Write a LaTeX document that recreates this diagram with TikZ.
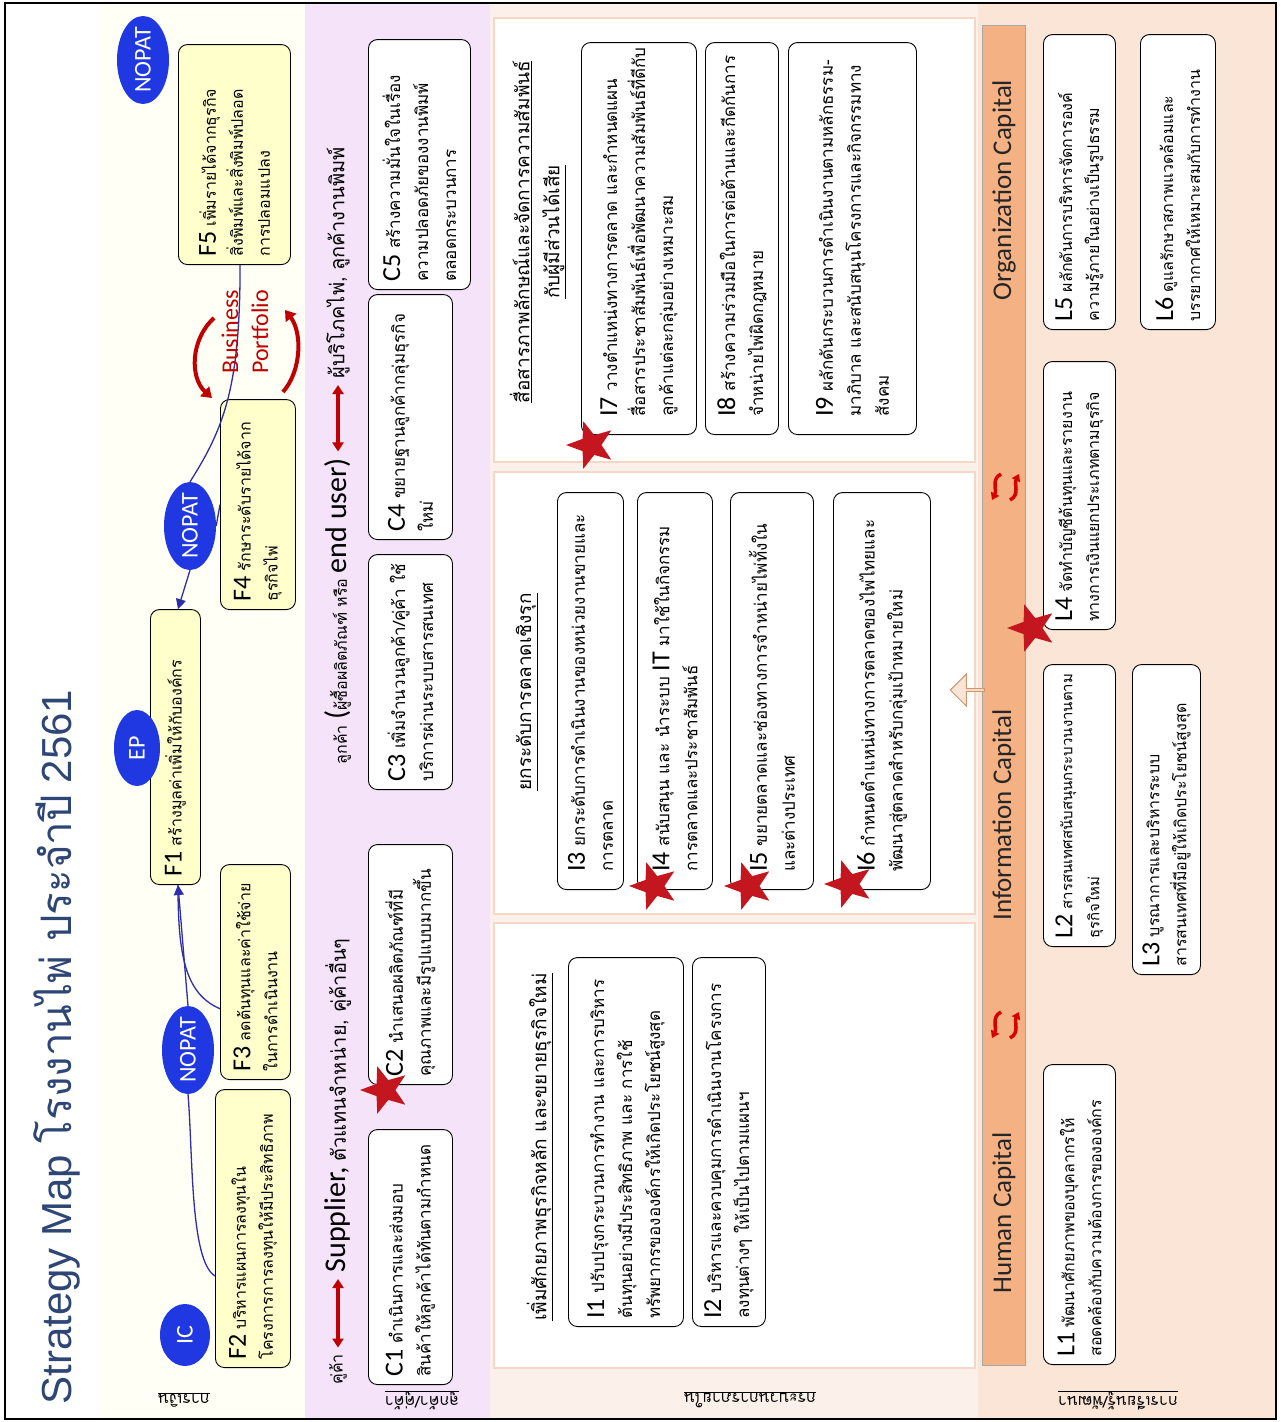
\documentclass[tikz,border=0pt]{standalone}
\usepackage{fontspec}
\setmainfont{Carlito}
\newfontfamily\thaifont[Script=Thai]{Loma}
\newfontfamily\latinfont{Carlito}
\newfontfamily\titlefont{Liberation Sans}
\usetikzlibrary{shapes.geometric, shapes.arrows, arrows.meta, calc}

\definecolor{fincream}{RGB}{255,255,246}
\definecolor{finyellow}{RGB}{255,255,204}
\definecolor{custpink}{RGB}{245,227,249}
\definecolor{procpeach}{RGB}{252,241,234}
\definecolor{panelline}{RGB}{246,214,196}
\definecolor{learnpeach}{RGB}{251,229,214}
\definecolor{capbar}{RGB}{244,177,131}
\definecolor{ovalblue}{RGB}{32,56,226}
\definecolor{linkblue}{RGB}{46,46,170}
\definecolor{darkred}{RGB}{192,0,0}
\definecolor{starred}{RGB}{196,22,30}
\definecolor{titleblue}{RGB}{45,70,118}

\newcommand{\idlab}[1]{{\latinfont\fontsize{26}{26}\selectfont #1}}
\newcommand{\boxtxt}{\thaifont\fontsize{16}{27}\selectfont}
\newcommand{\wideboxtxt}{\thaifont\fontsize{17}{28}\selectfont}
\newcommand{\headtxt}{\thaifont\fontsize{19}{30}\selectfont}
\newcommand{\bigsans}{\latinfont\fontsize{30}{30}\selectfont}

\tikzset{
  objbox/.style={draw, rounded corners=9pt, fill=white, rotate=90, anchor=north west,
    align=left, inner xsep=8pt, inner ysep=5pt, font=\boxtxt, line width=0.9pt},
  boxlen/.code={\pgfmathsetmacro\boxtw{#1-2*\pgfshapeinnerxsep}\tikzset{minimum width=#1pt, text width=\boxtw pt}},
  finobj/.style={objbox, fill=finyellow},
  wideobj/.style={objbox, font=\wideboxtxt},
  procobj/.style={wideobj, inner xsep=18pt},
  kpi/.style={ellipse, fill=ovalblue, text=white, rotate=90, inner sep=-4pt,
    font=\latinfont\fontsize{24}{24}\selectfont},
  redstar/.style={star, star points=5, star point ratio=2.4, fill=starred, rotate=90,
    minimum size=50pt, inner sep=0pt},
  panel/.style={fill=white, draw=panelline, line width=1.5pt},
  heading/.style={rotate=90, font=\headtxt, align=center},
  headline/.style={rotate=90, anchor=west, font=\boxtxt},
  link/.style={linkblue, line width=1.3pt},
  linkarrow/.style={link, -{Triangle[length=10pt,width=10pt]}},
  pairarrow/.style={darkred, line width=3.5pt, shorten <=3pt, shorten >=3pt,
    {Triangle[length=9pt,width=11pt]}-{Triangle[length=9pt,width=11pt]}},
  turnarrow/.style={darkred, line width=4pt, -{Triangle[length=10pt,width=13pt]}},
  swaparrow/.style={red!85!black, line width=3.5pt, -{Triangle[length=7pt,width=9pt]}},
  caplab/.style={rotate=90, font=\latinfont\fontsize{27}{27}\selectfont, text=black!85},
  rowlab/.style={rotate=180, font=\thaifont\fontsize{16}{16}\selectfont},
}

\begin{document}
\begin{tikzpicture}[x=1pt, y=-1pt]
\useasboundingbox (0,0) rectangle (1281,1422);
% column backgrounds
\fill[white] (0,0) rectangle (1281,1422);
\fill[fincream] (100,3) rectangle (305,1419);
\fill[custpink] (305,3) rectangle (490,1419);
\fill[procpeach] (490,3) rectangle (978,1419);
\fill[learnpeach] (978,3) rectangle (1276,1419);
\foreach \ya/\yb in {18/462, 472/914, 923/1368}
  \draw[panel] (494,\ya) rectangle (975,\yb);
\draw[line width=2.5pt] (5,3) rectangle (1276,1419);

% title
\node[rotate=90, anchor=west, text=titleblue] (title) at (57,1408)
  {\titlefont\fontsize{42}{42}\selectfont Strategy Map {\thaifont โรงงานไพ่ ประจำปี} 2561};

% financial
\node[finobj, boxlen=220, minimum height=112pt] (f5) at (178,265)
  {\idlab{F5}~เพิ่มรายได้จากธุรกิจ\\สิ่งพิมพ์และสิ่งพิมพ์ปลอด\\การปลอมแปลง};
\node[finobj, boxlen=210, minimum height=75pt] (f4) at (220,610)
  {\idlab{F4}~รักษาระดับรายได้จาก\\ธุรกิจไพ่};
\node[finobj, boxlen=275, minimum height=50pt] (f1) at (150,885)
  {\idlab{F1}~สร้างมูลค่าเพิ่มให้กับองค์กร};
\node[finobj, boxlen=215, minimum height=70pt] (f3) at (220,1080)
  {\idlab{F3}~ลดต้นทุนและค่าใช้จ่าย\\ในการดำเนินงาน};
\node[finobj, boxlen=278, minimum height=75pt] (f2) at (215,1368)
  {\idlab{F2}~บริหารแผนการลงทุนใน\\โครงการการลงทุนให้มีประสิทธิภาพ};

\node[kpi, minimum width=88pt, minimum height=52pt] (nopatA) at (143,60) {NOPAT};
\node[kpi, minimum width=88pt, minimum height=52pt] (nopatB) at (190,526) {NOPAT};
\node[kpi, minimum width=88pt, minimum height=52pt] (nopatC) at (188,1050) {NOPAT};
\node[kpi, minimum width=76pt, minimum height=46pt] (ep) at (137,748) {EP};
\node[kpi, minimum width=62pt, minimum height=50pt] (ic) at (185,1335) {IC};

\draw[link] ($(f5.north west)!0.55!(f5.south west)$) .. controls +(0,120) and +(35,-55) .. (nopatB.east);
\draw[link] (f4.north) -- (nopatB.south);
\draw[linkarrow] (nopatB.west) -- ($(f1.north east)!0.55!(f1.south east)$);
\draw[link] ($(f3.north west)!0.33!(f3.north east)$) .. controls +(-35,-15) and +(0,70) .. ($(f1.north west)!0.55!(f1.south west)$);
\draw[link] ($(f2.north west)!0.33!(f2.north east)$) .. controls +(-25,-15) and +(5,60) .. (nopatC.west);
\draw[linkarrow] (nopatC.east) -- ($(f1.north west)!0.55!(f1.south west)$);

\node[rotate=90, text=darkred, align=center, font=\latinfont\fontsize{24}{30}\selectfont] (bport) at (245,332) {Business\\Portfolio};
\coordinate (bpa1) at (214,318);
\coordinate (bpa2) at (212,398);
\coordinate (bpb1) at (283,392);
\coordinate (bpb2) at (285,310);
\draw[turnarrow] (bpa1) .. controls (190,340) and (190,378) .. (bpa2);
\draw[turnarrow] (bpb1) .. controls (302,370) and (302,332) .. (bpb2);

% customer
\node[headline] (partner) at (338,1388) {คู่ค้า};
\node[headline] (supplier) at (338,1276) {{\bigsans Supplier,} {\fontsize{20}{20}\selectfont ตัวแทนจำหน่าย, คู่ค้าอื่นๆ}};
\draw[pairarrow] (partner) -- (supplier);
\node[headline] (buyer) at (338,768) {ลูกค้า {\bigsans (}ผู้ซื้อผลิตภัณฑ์ หรือ {\bigsans end user)}};
\node[headline, font=\thaifont\fontsize{20}{20}\selectfont] (enduser) at (338,382) {ผู้บริโภคไพ่, ลูกค้างานพิมพ์};
\draw[pairarrow] (buyer) -- (enduser);

\node[wideobj, boxlen=255, minimum height=84pt] (c1) at (368,1385)
  {\idlab{C1}~ดำเนินการและส่งมอบ\\สินค้าให้ลูกค้าได้ทันตามกำหนด};
\node[wideobj, boxlen=240, minimum height=84pt] (c2) at (368,1085)
  {\idlab{C2}~นำเสนอผลิตภัณฑ์ที่มี\\คุณภาพและมีรูปแบบมากขึ้น};
\node[wideobj, boxlen=235, minimum height=84pt] (c3) at (368,790)
  {\idlab{C3}~เพิ่มจำนวนลูกค้า/คู่ค้า~ใช้\\บริการผ่านระบบสารสนเทศ};
\node[wideobj, boxlen=245, minimum height=84pt] (c4) at (368,540)
  {\idlab{C4}~ขยายฐานลูกค้ากลุ่มธุรกิจ\\ใหม่};
\node[wideobj, boxlen=250, minimum height=102pt] (c5) at (368,290)
  {\idlab{C5}~สร้างความมั่นใจในเรื่อง\\ความปลอดภัยของงานพิมพ์\\ตลอดกระบวนการ};

% internal process
\node[heading] (headA) at (538,232) {\underline{สื่อสารภาพลักษณ์และจัดการความสัมพันธ์}\\\underline{กับผู้มีส่วนได้เสีย}};
\node[procobj, boxlen=392, minimum height=115pt] (i7) at (581,435)
  {\idlab{I7}~วางตำแหน่งทางการตลาด และกำหนดแผน\\สื่อสารประชาสัมพันธ์เพื่อพัฒนาความสัมพันธ์ที่ดีกับ\\ลูกค้าแต่ละกลุ่มอย่างเหมาะสม};
\node[procobj, boxlen=392, minimum height=73pt] (i8) at (705,435)
  {\idlab{I8}~สร้างความร่วมมือในการต่อต้านและกีดกันการ\\จำหน่ายไพ่ผิดกฎหมาย};
\node[procobj, boxlen=392, minimum height=128pt] (i9) at (788,435)
  {\mbox{\idlab{I9}~ผลักดันกระบวนการดำเนินงานตามหลักธรรม-}\\มาภิบาล และสนับสนุนโครงการและกิจกรรมทาง\\สังคม};

\node[heading] (headB) at (527,692) {\underline{ยกระดับการตลาดเชิงรุก}};
\node[procobj, boxlen=397, minimum height=66pt] (i3) at (557,890)
  {\idlab{I3}~ยกระดับการดำเนินงานของหน่วยงานขายและ\\การตลาด};
\node[procobj, boxlen=397, minimum height=75pt] (i4) at (637,890)
  {\idlab{I4}~สนับสนุน และ นำระบบ {\latinfont\fontsize{26}{26}\selectfont IT} มาใช้ในกิจกรรม\\การตลาดและประชาสัมพันธ์};
\node[procobj, boxlen=397, minimum height=83pt] (i5) at (730,890)
  {\idlab{I5}~ขยายตลาดและช่องทางการจำหน่ายไพ่ทั้งใน\\และต่างประเทศ};
\node[procobj, boxlen=397, minimum height=97pt] (i6) at (833,890)
  {\idlab{I6}~กำหนดตำแหน่งทางการตลาดของไพ่ไทยและ\\พัฒนาสู่ตลาดสำหรับกลุ่มเป้าหมายใหม่};

\node[heading] (headC) at (540,1147) {\underline{เพิ่มศักยภาพธุรกิจหลัก และขยายธุรกิจใหม่}};
\node[wideobj, boxlen=369, minimum height=115pt] (i1) at (568,1327)
  {\idlab{I1}~ปรับปรุงกระบวนการทำงาน และการบริหาร\\ต้นทุนอย่างมีประสิทธิภาพ และ การใช้\\ทรัพยากรขององค์กรให้เกิดประโยชน์สูงสุด};
\node[wideobj, boxlen=369, minimum height=73pt] (i2) at (692,1327)
  {\idlab{I2}~บริหารและควบคุมการดำเนินงานโครงการ\\ลงทุนต่างๆ ให้เป็นไปตามแผนฯ};

% learning and growth
\draw[fill=capbar, draw=black!35, line width=1pt] (982,25) rectangle (1025,1365);
\node[caplab] (orgcap) at (1004,190) {Organization Capital};
\node[caplab] (infocap) at (1004,815) {Information Capital};
\node[caplab] (humcap) at (1004,1213) {Human Capital};
\coordinate (swapA) at (1005,487);
\coordinate (swapB) at (1005,1025);
\foreach \c in {swapA, swapB} {
  \draw[swaparrow] ($(\c)+(-4,-13)$) .. controls +(-10,5) and +(5,-10) .. ($(\c)+(-13,13)$);
  \draw[swaparrow] ($(\c)+(5,13)$) .. controls +(10,-5) and +(-5,10) .. ($(\c)+(14,-13)$);
}
\node[single arrow, rotate=180, draw=capbar!85!black, fill=learnpeach, line width=1pt,
  minimum width=32pt, minimum height=34pt, single arrow head extend=5pt, inner sep=0pt] (infoarrow) at (968,690) {};

\node[objbox, boxlen=295, minimum height=72pt] (l5) at (1043,330)
  {\idlab{L5}~ผลักดันการบริหารจัดการองค์\\ความรู้ภายในอย่างเป็นรูปธรรม};
\node[objbox, boxlen=295, minimum height=75pt] (l6) at (1140,330)
  {\idlab{L6}~ดูแลรักษาสภาพแวดล้อมและ\\บรรยากาศให้เหมาะสมกับการทำงาน};
\node[objbox, boxlen=268, minimum height=72pt] (l4) at (1043,630)
  {\idlab{L4}~จัดทำบัญชีต้นทุนและรายงาน\\ทางการเงินแยกประเภทตามธุรกิจ};
\node[objbox, boxlen=282, minimum height=72pt, font=\thaifont\fontsize{15}{27}\selectfont] (l2) at (1043,947)
  {\idlab{L2}~สารสนเทศสนับสนุนกระบวนงานตาม\\ธุรกิจใหม่};
\node[objbox, boxlen=310, minimum height=68pt] (l3) at (1132,975)
  {\idlab{L3}~บูรณาการและบริหารระบบ\\สารสนเทศที่มีอยู่ให้เกิดประโยชน์สูงสุด};
\node[objbox, boxlen=300, minimum height=72pt] (l1) at (1043,1365)
  {\idlab{L1}~พัฒนาศักยภาพของบุคลากรให้\\สอดคล้องกับความต้องการขององค์กร};

% stars
\node[redstar] (starC2) at (385,1090) {};
\node[redstar] (starI7) at (591,445) {};
\node[redstar] (starI4) at (654,886) {};
\node[redstar] (starI5) at (749,886) {};
\node[redstar] (starI6) at (849,884) {};
\node[redstar] (starL4) at (1032,628) {};

% perspective labels
\node[rowlab] (rowfin) at (184,1400) {\underline{การเงิน}};
\node[rowlab] (rowcust) at (422,1400) {\underline{ลูกค้า/คู่ค้า}};
\node[rowlab] (rowproc) at (750,1400) {\underline{กระบวนการภายใน}};
\node[rowlab] (rowlearn) at (1118,1400) {\underline{การเรียนรู้/พัฒนา}};
\end{tikzpicture}
\end{document}
